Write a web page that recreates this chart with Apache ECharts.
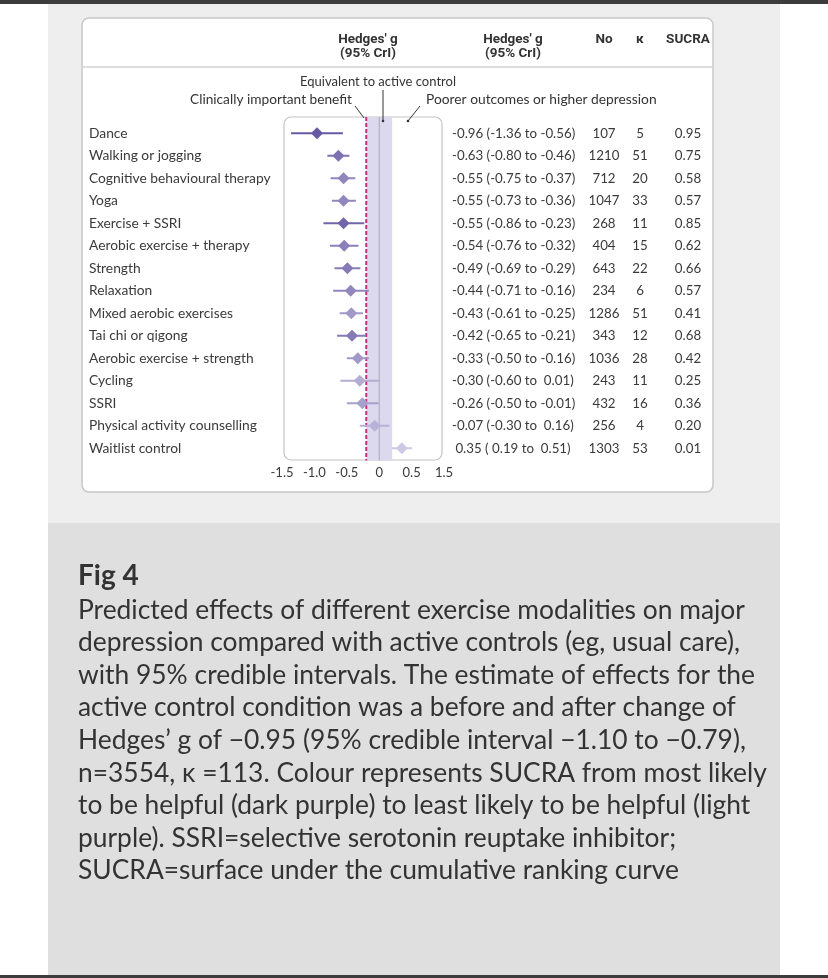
<!DOCTYPE html>
<html>
<head>
<meta charset="utf-8">
<script src="https://cdn.jsdelivr.net/npm/echarts@6/dist/echarts.min.js"></script>
<style>
html,body{margin:0;padding:0;background:#fff;}
#chart{width:828px;height:978px;}
</style>
</head>
<body>
<div id="chart"></div>
<script>
// ---------- data ----------
const categories = ['Dance','Walking or jogging','Cognitive behavioural therapy','Yoga','Exercise + SSRI','Aerobic exercise + therapy','Strength','Relaxation','Mixed aerobic exercises','Tai chi or qigong','Aerobic exercise + strength','Cycling','SSRI','Physical activity counselling','Waitlist control'];
const estimate = [-0.96,-0.63,-0.55,-0.55,-0.55,-0.54,-0.49,-0.44,-0.43,-0.42,-0.33,-0.30,-0.26,-0.07,0.35];
const lower    = [-1.36,-0.80,-0.75,-0.73,-0.86,-0.76,-0.69,-0.71,-0.61,-0.65,-0.50,-0.60,-0.50,-0.30,0.19];
const upper    = [-0.56,-0.46,-0.37,-0.36,-0.23,-0.32,-0.29,-0.16,-0.25,-0.21,-0.16,0.01,-0.01,0.16,0.51];
const nParticipants = [107,1210,712,1047,268,404,643,234,1286,343,1036,243,432,256,1303];
const kStudies = [5,51,20,33,11,15,22,6,51,12,28,11,16,4,53];
const sucra = [0.95,0.75,0.58,0.57,0.85,0.62,0.66,0.57,0.41,0.68,0.42,0.25,0.36,0.20,0.01];
const xTickLabels = ['-1.5','-1.0','-0.5','0','0.5','1.5'];
const clinicalThreshold = -0.2;
const equivalenceBand = [-0.2, 0.2];
const zeroLine = 0;

const captionTitle = 'Fig 4';
const captionLines = [
  'Predicted effects of different exercise modalities on major',
  'depression compared with active controls (eg, usual care),',
  'with 95% credible intervals. The estimate of effects for the',
  'active control condition was a before and after change of',
  'Hedges\u2019 g of \u22120.95 (95% credible interval \u22121.10 to \u22120.79),',
  'n=3554, \u03BA =113. Colour represents SUCRA from most likely',
  'to be helpful (dark purple) to least likely to be helpful (light',
  'purple). SSRI=selective serotonin reuptake inhibitor;',
  'SUCRA=surface under the cumulative ranking curve'
];

// ---------- helpers ----------
function fmt(v){ const s = v.toFixed(2); return v >= 0 ? ' ' + s : s; }
const ciText = estimate.map((e,i) => fmt(e) + ' (' + fmt(lower[i]) + ' to ' + fmt(upper[i]) + ')');
// dims: 0 estimate (x), 1 row (y), 2 lower, 3 upper, 4 sucra
const seriesData = estimate.map((e,i) => [e, i, lower[i], upper[i], sucra[i]]);

const FONT = 'Lato';
const TXT = '#3a3a3a';

const chart = echarts.init(document.getElementById('chart'), null, {renderer:'canvas'});

function colAxis(values, margin, align){
  return {
    type:'category', data: categories, inverse:true, position:'right', offset:0,
    axisLine:{show:false}, axisTick:{show:false}, splitLine:{show:false},
    axisLabel:{interval:0, margin: margin, align: align, fontFamily:FONT, fontSize:13.3, color:TXT,
      formatter:(v, idx) => String(values[idx])}
  };
}

const caption = captionLines.map((t,i) => ({
  type:'text', left:78, top: 597 + i*32.6, z:5,
  style:{text:t, fontFamily:FONT, fontSize:26.4, fill:'#333'}
}));

const option = {
  backgroundColor:'#ffffff',
  animation:false,
  grid:{left:282, top:122, width:162, height:337.5, containLabel:false},
  xAxis:{
    type:'value', min:-1.5, max:1.0, interval:0.5,
    axisLine:{show:false}, axisTick:{show:false}, splitLine:{show:false},
    axisLabel:{margin:7, fontFamily:FONT, fontSize:13, color:TXT,
      formatter:(v, idx) => xTickLabels[idx]}
  },
  yAxis:[
    {type:'category', data:categories, inverse:true, position:'left',
     axisLine:{show:false}, axisTick:{show:false}, splitLine:{show:false},
     axisLabel:{interval:0, margin:193, align:'left', fontFamily:FONT, fontSize:13.8, color:TXT}},
    colAxis(ciText, 8, 'left'),
    colAxis(nParticipants, 160, 'center'),
    colAxis(kStudies, 196, 'center'),
    colAxis(sucra.map(s => s.toFixed(2)), 244, 'center')
  ],
  visualMap:{
    type:'continuous', show:false, seriesIndex:1, dimension:4, min:0, max:1,
    inRange:{color:['#cfcae6','#62539f']}
  },
  series:[
    {
      type:'custom', xAxisIndex:0, yAxisIndex:0, z:3, silent:true,
      data:[[equivalenceBand[0], 0, equivalenceBand[1], zeroLine, clinicalThreshold]],
      renderItem:function(params, api){
        const cs = params.coordSys;
        const top = cs.y - 5, bot = cs.y + cs.height + 1;
        const a = api.coord([api.value(0), 0])[0];
        const b = api.coord([api.value(2), 0])[0];
        const z0 = api.coord([api.value(3), 0])[0];
        const ct = api.coord([api.value(4), 0])[0];
        return {type:'group', children:[
          {type:'rect', shape:{x:a, y:top, width:b-a, height:bot-top}, style:{fill:'#dcd9ef'}},
          {type:'line', shape:{x1:z0, y1:top, x2:z0, y2:bot}, style:{stroke:'#a8a8b6', lineWidth:1}},
          {type:'line', shape:{x1:ct, y1:top, x2:ct, y2:bot}, style:{stroke:'#c4317f', lineWidth:2, lineDash:[4,2]}}
        ]};
      }
    },
    {
      type:'custom', xAxisIndex:0, yAxisIndex:0, z:5,
      data: seriesData,
      renderItem:function(params, api){
        const row = api.value(1);
        const c = api.coord([api.value(0), row]);
        const l = api.coord([api.value(2), row]);
        const h = api.coord([api.value(3), row]);
        const col = api.visual('color');
        const r = 6;
        return {type:'group', children:[
          {type:'line', shape:{x1:l[0], y1:c[1], x2:h[0], y2:c[1]}, style:{stroke:col, lineWidth:2}},
          {type:'polygon', shape:{points:[[c[0],c[1]-r],[c[0]+r,c[1]],[c[0],c[1]+r],[c[0]-r,c[1]]]}, style:{fill:col}}
        ]};
      }
    }
  ],
  graphic:[
    {type:'rect', z:-10, shape:{x:0,y:0,width:828,height:4}, style:{fill:'#3c3c3c'}},
    {type:'rect', z:-10, shape:{x:48,y:4,width:732,height:519}, style:{fill:'#eeeeee'}},
    {type:'rect', z:-10, shape:{x:48,y:523,width:732,height:452}, style:{fill:'#dfdfdf'}},
    {type:'rect', z:-10, shape:{x:0,y:975,width:828,height:3}, style:{fill:'#3c3c3c'}},
    {type:'rect', z:-9, shape:{x:82,y:18,width:631,height:474,r:7}, style:{fill:'#ffffff', stroke:'#c8c8c8', lineWidth:1.5}},
    {type:'line', z:-8, shape:{x1:83,y1:67,x2:712,y2:67}, style:{stroke:'#d2d2d2', lineWidth:1.5}},
    {type:'rect', z:-8, shape:{x:284,y:117,width:158,height:343,r:7}, style:{fill:'#ffffff', stroke:'#c4c4c4', lineWidth:1.2}},
    // header
    {type:'text', z:5, x:368, y:40, style:{text:"Hedges' g", fontFamily:'Roboto', fontWeight:'bold', fontSize:13.5, fill:'#333', align:'center', verticalAlign:'middle'}},
    {type:'text', z:5, x:368, y:54, style:{text:'(95% CrI)', fontFamily:'Roboto', fontWeight:'bold', fontSize:13.5, fill:'#333', align:'center', verticalAlign:'middle'}},
    {type:'text', z:5, x:513, y:40, style:{text:"Hedges' g", fontFamily:'Roboto', fontWeight:'bold', fontSize:13.5, fill:'#333', align:'center', verticalAlign:'middle'}},
    {type:'text', z:5, x:513, y:54, style:{text:'(95% CrI)', fontFamily:'Roboto', fontWeight:'bold', fontSize:13.5, fill:'#333', align:'center', verticalAlign:'middle'}},
    {type:'text', z:5, x:604, y:40, style:{text:'No', fontFamily:'Roboto', fontWeight:'bold', fontSize:13.5, fill:'#333', align:'center', verticalAlign:'middle'}},
    {type:'text', z:5, x:640, y:40, style:{text:'\u03BA', fontFamily:'Roboto', fontWeight:'bold', fontSize:13.5, fill:'#333', align:'center', verticalAlign:'middle'}},
    {type:'text', z:5, x:688, y:40, style:{text:'SUCRA', fontFamily:'Roboto', fontWeight:'bold', fontSize:13.5, fill:'#333', align:'center', verticalAlign:'middle'}},
    // annotations
    {type:'text', z:5, x:378, y:82, style:{text:'Equivalent to active control', fontFamily:FONT, fontSize:13, fill:'#333', align:'center', verticalAlign:'middle'}},
    {type:'text', z:5, x:352, y:100, style:{text:'Clinically important benefit', fontFamily:FONT, fontSize:13.7, fill:'#333', align:'right', verticalAlign:'middle'}},
    {type:'text', z:5, x:426, y:100, style:{text:'Poorer outcomes or higher depression', fontFamily:FONT, fontSize:13.8, fill:'#333', align:'left', verticalAlign:'middle'}},
    {type:'line', z:6, shape:{x1:355,y1:106,x2:364,y2:118}, style:{stroke:'#333', lineWidth:1}},
    {type:'line', z:6, shape:{x1:383,y1:90,x2:383,y2:121}, style:{stroke:'#333', lineWidth:1}},
    {type:'circle', z:6, shape:{cx:383,cy:121,r:1.3}, style:{fill:'#333'}},
    {type:'line', z:6, shape:{x1:420,y1:106,x2:408,y2:121}, style:{stroke:'#333', lineWidth:1}},
    {type:'circle', z:6, shape:{cx:408,cy:121,r:1.3}, style:{fill:'#333'}},
    // caption
    {type:'text', left:78, top:562, z:5, style:{text:captionTitle, fontFamily:FONT, fontWeight:'bold', fontSize:28, fill:'#333'}}
  ].concat(caption)
};
chart.setOption(option);
</script>
</body>
</html>
